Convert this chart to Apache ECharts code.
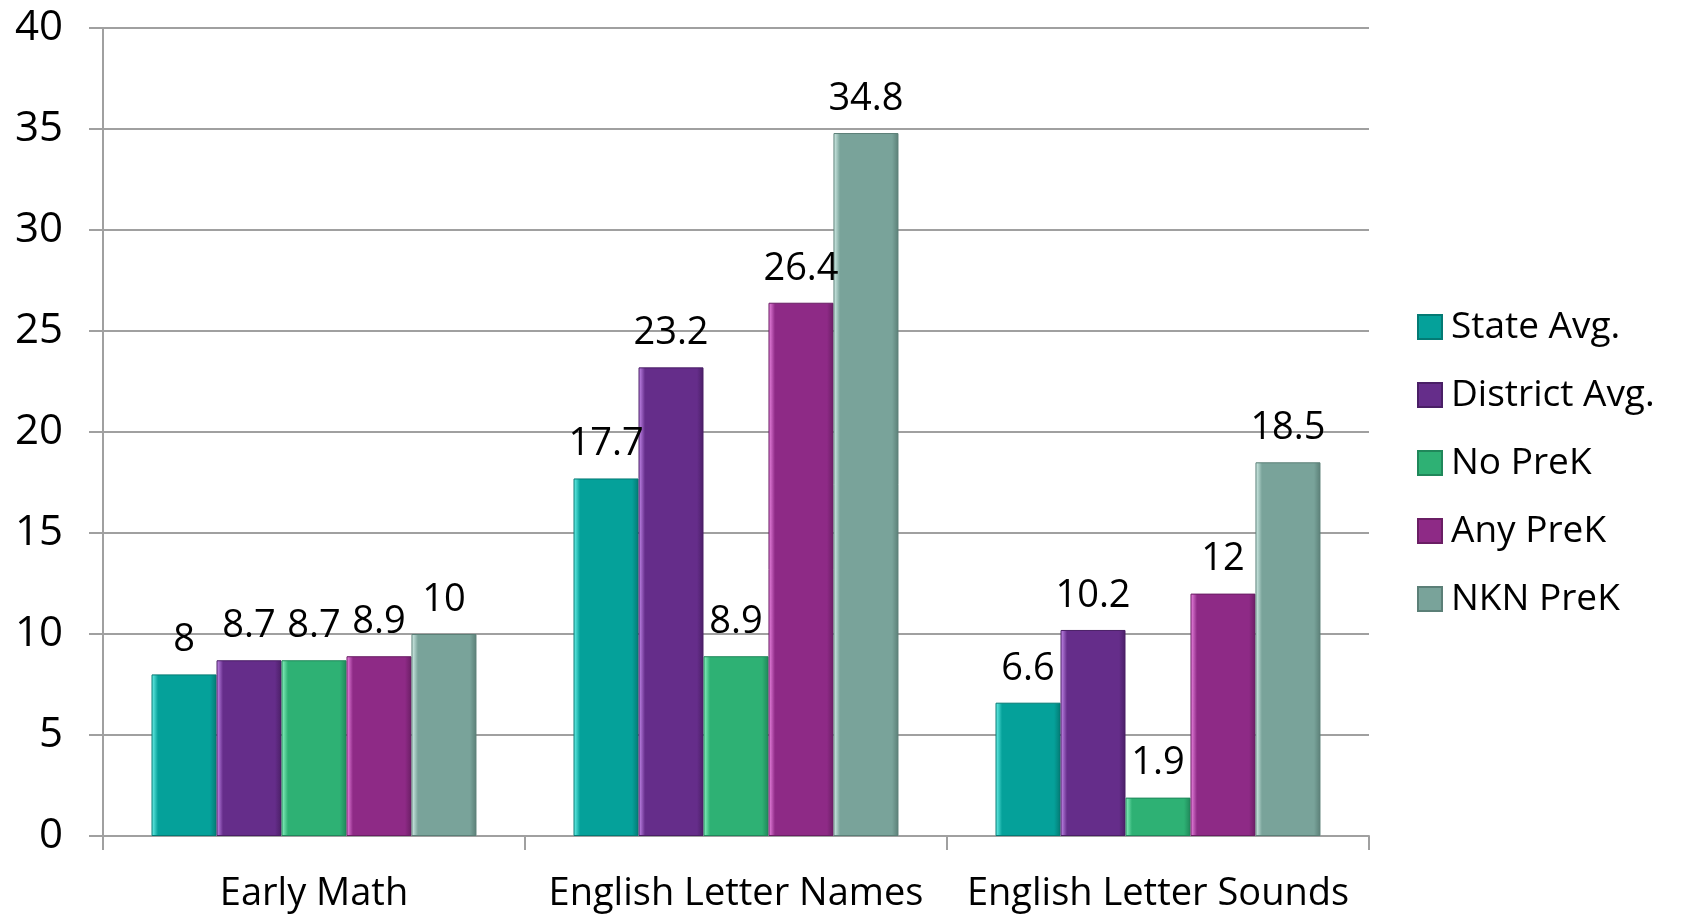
<!DOCTYPE html>
<html>
<head>
<meta charset="utf-8">
<script src="https://cdn.jsdelivr.net/npm/echarts@6/dist/echarts.min.js"></script>
<style>
html,body{margin:0;padding:0;background:#fff;}
#chart{width:1694px;height:914px;}
</style>
</head>
<body>
<div id="chart"></div>
<script>
const categories = ['Early Math', 'English Letter Names', 'English Letter Sounds'];
const seriesNames = ['State Avg.', 'District Avg.', 'No PreK', 'Any PreK', 'NKN PreK'];
const stateAvg = [8, 17.7, 6.6];
const districtAvg = [8.7, 23.2, 10.2];
const noPreK = [8.7, 8.9, 1.9];
const anyPreK = [8.9, 26.4, 12];
const nknPreK = [10, 34.8, 18.5];
const yTicks = [0, 5, 10, 15, 20, 25, 30, 35, 40];

const seriesData = [stateAvg, districtAvg, noPreK, anyPreK, nknPreK];
const colors = [
  {base:'#05a19a', light:'#6ff5ec', dark:'#047a74'},
  {base:'#652d8a', light:'#c98ef0', dark:'#4a1f66'},
  {base:'#2eb174', light:'#8ff5c4', dark:'#20875a'},
  {base:'#8e2a86', light:'#f08ae6', dark:'#6a1e64'},
  {base:'#79a39a', light:'#d8f2ec', dark:'#5b7f77'}
];
const FONT = '"Open Sans", Lato, "Liberation Sans", sans-serif';

function grad(c){
  return new echarts.graphic.LinearGradient(0,0,1,0,[
    {offset:0, color:c.light},
    {offset:0.1, color:c.base},
    {offset:0.9, color:c.base},
    {offset:1, color:c.dark}
  ]);
}

const chart = echarts.init(document.getElementById('chart'));
chart.setOption({
  animation:false,
  grid:{left:103, right:325, top:28, bottom:78, containLabel:false},
  legend:{
    orient:'vertical', left:1412, top:296,
    itemWidth:24, itemHeight:24, itemGap:16,
    icon:'rect',
    data:seriesNames,
    textStyle:{fontFamily:FONT, fontSize:37, lineHeight:52, color:'#000', padding:[0,0,0,4]}
  },
  xAxis:{
    type:'category', data:categories,
    axisLine:{lineStyle:{color:'#a0a0a0', width:2}},
    axisTick:{show:true, length:14, lineStyle:{color:'#a0a0a0', width:2}},
    axisLabel:{interval:0, fontFamily:FONT, fontSize:38, color:'#000', margin:39}
  },
  yAxis:{
    type:'value', min:0, max:40, interval:5,
    axisLine:{show:true, lineStyle:{color:'#a0a0a0', width:2}},
    axisTick:{show:true, length:14, lineStyle:{color:'#a0a0a0', width:2}},
    splitLine:{lineStyle:{color:'#a0a0a0', width:2}},
    axisLabel:{fontFamily:FONT, fontSize:42, color:'#000', margin:40,
      formatter:function(v){return yTicks.indexOf(v)>=0 ? String(v) : '';}}
  },
  series: seriesNames.map(function(name,i){
    return {
      name:name, type:'bar', data:seriesData[i],
      barGap:'0%', barCategoryGap:'23%',
      itemStyle:{color:grad(colors[i]), borderColor:colors[i].dark, borderWidth:1},
      label:{show:true, position:'top', distance:15, fontFamily:FONT, fontSize:38, color:'#000'}
    };
  })
});
</script>
</body>
</html>
